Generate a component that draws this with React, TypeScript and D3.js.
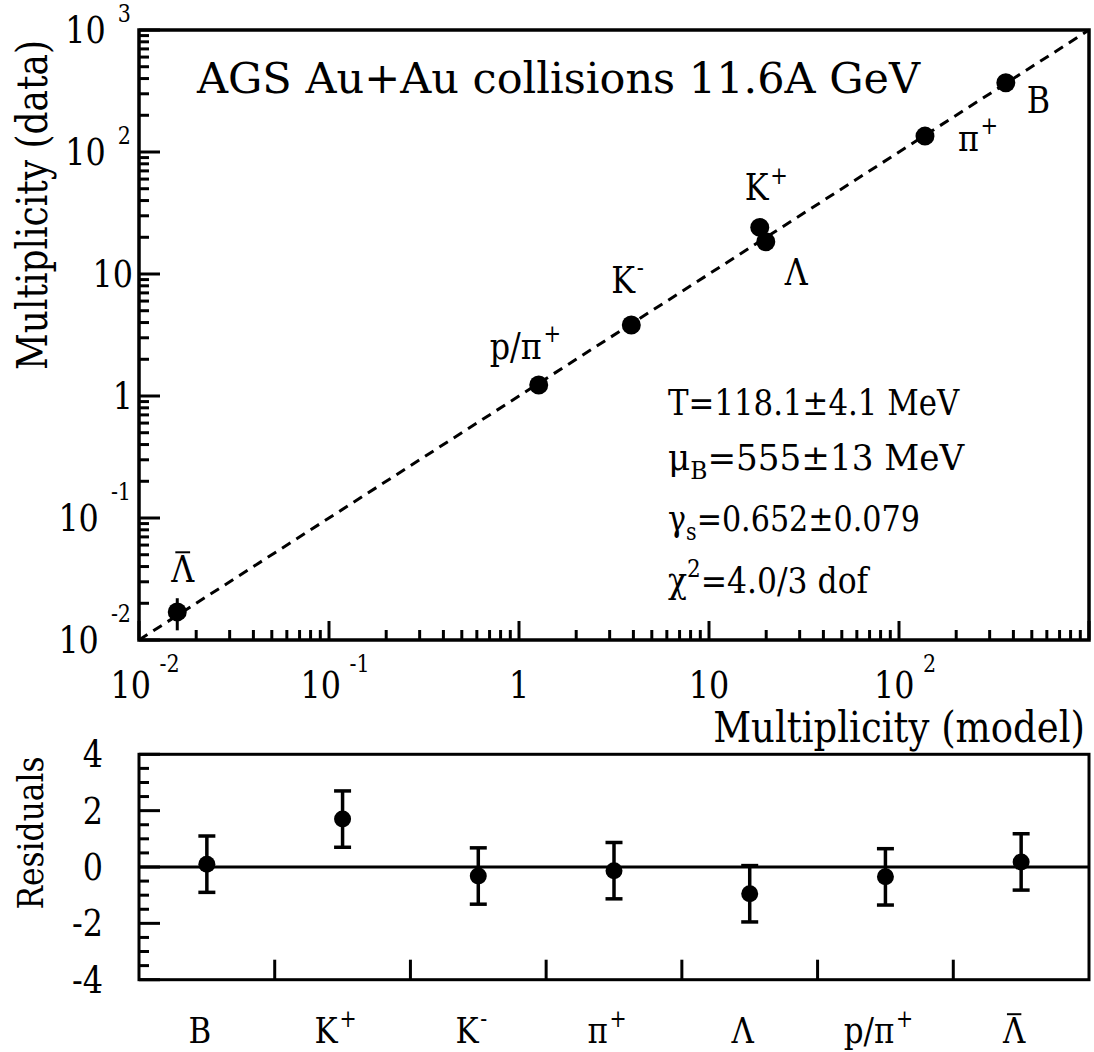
import React, { useLayoutEffect, useRef, useState } from 'react';
import * as d3 from 'd3';

const FONT = "'DejaVu Serif', 'Liberation Serif', serif";

// ---------------- data: main panel (multiplicity data vs model) ----------------
const particles = ['B', 'π+', 'K+', 'Λ', 'K-', 'p/π+', 'Λbar'];
const modelMultiplicity = [365, 137, 18.5, 19.9, 3.9, 1.27, 0.0159];
const dataMultiplicity = [370, 135, 24.1, 18.4, 3.82, 1.23, 0.017];
const dataError = [0, 0, 0, 0, 0, 0, 0.005];

// ---------------- data: residual panel ----------------
const residualCategories = ['B', 'K+', 'K-', 'π+', 'Λ', 'p/π+', 'Λbar'];
const residualValues = [0.1, 1.7, -0.32, -0.13, -0.95, -0.35, 0.18];
const residualErrors = [1, 1, 1, 1, 1, 1, 1];

// ---------------- axes / ticks ----------------
const logExponents = [-2, -1, 0, 1, 2, 3];
const residualMajorTicks = [-4, -2, 0, 2, 4];

// ---------------- text ----------------
const titleText = 'AGS Au+Au collisions 11.6A GeV';
const xTitle = 'Multiplicity (model)';
const yTitle = 'Multiplicity (data)';
const residualTitle = 'Residuals';
const fitLines = [
  { base: 'T', sub: '', sup: '', rest: '=118.1±4.1 MeV' },
  { base: 'μ', sub: 'B', sup: '', rest: '=555±13 MeV' },
  { base: 'γ', sub: 's', sup: '', rest: '=0.652±0.079' },
  { base: 'χ', sub: '', sup: '2', rest: '=4.0/3 dof' },
];

// ---------------- layout / style ----------------
const W = 1094;
const H = 1052;
const M = { left: 139, right: 1089, top: 30, bottom: 640 };
const R = { left: 139, right: 1089, top: 754.3, bottom: 979.7 };
const fitBaselines = [415, 470, 531, 593];
const fitWidths = [292, 297, 252, 203];
// label offsets relative to each point, in px
const labelOffsets: Record<string, [number, number]> = {
  'B': [21, 30],
  'π+': [33, 15],
  'K+': [-15, -27],
  'Λ': [19, 43],
  'K-': [-20, -32],
  'p/π+': [-49, -26],
  'Λbar': [-6, -30],
};
const SX = 0.86; // horizontal squeeze so DejaVu Serif resembles Times proportions

const txtStyle = { fontFamily: FONT };

function SText({ x, y, size, anchor = 'start', sx = 1, rotate = 0, children }: any) {
  return (
    <g transform={`translate(${x},${y}) rotate(${rotate}) scale(${sx},1)`}>
      <text x={0} y={0} fontSize={size} textAnchor={anchor} style={txtStyle}>
        {children}
      </text>
    </g>
  );
}

// text squeezed/stretched horizontally to a target width (measured at runtime)
function FitText({ x, y, size, anchor = 'start', rotate = 0, width, children }: any) {
  const ref = useRef<SVGTextElement>(null);
  const [sx, setSx] = useState(1);
  useLayoutEffect(() => {
    if (ref.current) {
      const w = ref.current.getBBox().width;
      if (w > 0) setSx(width / w);
    }
  }, [width]);
  return (
    <g transform={`translate(${x},${y}) rotate(${rotate}) scale(${sx},1)`}>
      <text ref={ref} x={0} y={0} fontSize={size} textAnchor={anchor} style={txtStyle}>
        {children}
      </text>
    </g>
  );
}

function ParticleLabel({ text, x, y, size, anchor = 'start' }: any) {
  let base = text;
  let sup = '';
  let bar = false;
  if (text.endsWith('bar')) {
    base = text.slice(0, -3);
    bar = true;
  } else if (text.endsWith('+') || text.endsWith('-')) {
    base = text.slice(0, -1);
    sup = text.slice(-1);
  }
  const barCx = anchor === 'middle' ? x : x + 0.36 * size * SX;
  return (
    <g>
      <SText x={x} y={y} size={size} anchor={anchor} sx={SX}>
        {base}
        {sup && (
          <tspan dx={2} dy={-size * 0.45} fontSize={size * 0.66}>
            {sup}
          </tspan>
        )}
      </SText>
      {bar && (
        <line
          x1={barCx - 0.2 * size}
          x2={barCx + 0.2 * size}
          y1={y - 0.8 * size}
          y2={y - 0.8 * size}
          stroke="#000"
          strokeWidth={2}
        />
      )}
    </g>
  );
}

export default function App() {
  const x = d3.scaleLog().domain([0.01, 1000]).range([M.left, M.right]);
  const y = d3.scaleLog().domain([0.01, 1000]).range([M.bottom, M.top]);

  const rx = d3.scaleLinear().domain([0, residualCategories.length]).range([R.left, R.right]);
  const ry = d3.scaleLinear().domain([-4, 4]).range([R.bottom, R.top]);

  const minorVals: number[] = [];
  for (let e = -2; e < 3; e++) for (let m = 2; m <= 9; m++) minorVals.push(m * Math.pow(10, e));
  const majorVals = logExponents.map((e) => Math.pow(10, e));

  const resMinor = d3.range(-4, 4.01, 0.5).filter((v) => !residualMajorTicks.includes(v));

  const diag = d3.line<number>()
    .x((d) => x(d))
    .y((d) => y(d))([0.01, 1000]);

  const tickFont = 37;
  const expFont = 24;

  return (
    <svg
      width={W}
      height={H}
      style={{ position: 'absolute', left: 0, top: 0, background: '#fff', fontFamily: FONT }}
    >
      <rect x={0} y={0} width={W} height={H} fill="#fff" />

      {/* ===== main panel ===== */}
      {minorVals.map((v, i) => (
        <g key={'mn' + i} stroke="#000" strokeWidth={3}>
          <line x1={M.left} x2={M.left + 10} y1={y(v)} y2={y(v)} />
          <line x1={x(v)} x2={x(v)} y1={M.bottom} y2={M.bottom - 10} />
        </g>
      ))}
      {majorVals.map((v, i) => (
        <g key={'mj' + i} stroke="#000" strokeWidth={3}>
          <line x1={M.left} x2={M.left + 21} y1={y(v)} y2={y(v)} />
          <line x1={x(v)} x2={x(v)} y1={M.bottom} y2={M.bottom - 19} />
        </g>
      ))}
      <path d={diag || ''} stroke="#000" strokeWidth={3} strokeDasharray="10 7" fill="none" />
      <rect
        x={M.left}
        y={M.top}
        width={M.right - M.left}
        height={M.bottom - M.top}
        fill="none"
        stroke="#000"
        strokeWidth={3.5}
      />

      {/* y tick labels */}
      {logExponents.map((e) => {
        const ty = y(Math.pow(10, e));
        if (e === 0 || e === 1)
          return (
            <SText key={'yl' + e} x={133} y={ty + 13} size={tickFont} anchor="end" sx={SX}>
              {e === 0 ? '1' : '10'}
            </SText>
          );
        return (
          <SText key={'yl' + e} x={131} y={ty + 13} size={tickFont} anchor="end" sx={SX}>
            10
            <tspan dx={14} dy={e < 0 ? -31 : -21} fontSize={expFont}>
              {String(e)}
            </tspan>
          </SText>
        );
      })}
      {/* x tick labels */}
      {logExponents.filter((e) => e < 3).map((e) => {
        const tx = x(Math.pow(10, e));
        if (e === 0 || e === 1)
          return (
            <SText key={'xl' + e} x={tx} y={698} size={tickFont} anchor="middle" sx={SX}>
              {e === 0 ? '1' : '10'}
            </SText>
          );
        return (
          <SText key={'xl' + e} x={tx + 6} y={698} size={tickFont} anchor="middle" sx={SX}>
            10
            <tspan dx={10} dy={-26} fontSize={expFont}>
              {String(e)}
            </tspan>
          </SText>
        );
      })}

      {/* axis titles */}
      <FitText x={1085} y={742} size={42} anchor="end" width={372}>
        {xTitle}
      </FitText>
      <FitText x={47} y={205} size={42} anchor="middle" rotate={-90} width={330}>
        {yTitle}
      </FitText>

      {/* title */}
      <FitText x={197} y={93} size={42} width={725}>
        {titleText}
      </FitText>

      {/* fit parameters */}
      {fitLines.map((l, i) => (
        <FitText key={'fit' + i} x={668} y={fitBaselines[i]} size={35} width={fitWidths[i]}>
          {l.base}
          {l.sub && (
            <tspan dy={9} fontSize={24}>
              {l.sub}
            </tspan>
          )}
          {l.sup && (
            <tspan dy={-16} fontSize={24}>
              {l.sup}
            </tspan>
          )}
          <tspan dy={l.sub ? -9 : l.sup ? 16 : 0}>{l.rest}</tspan>
        </FitText>
      ))}

      {/* error bars + points */}
      {particles.map((p, i) => {
        const cx = x(modelMultiplicity[i]);
        const cy = y(dataMultiplicity[i]);
        const err = dataError[i];
        return (
          <g key={'pt' + i}>
            {err > 0 && (
              <line
                x1={cx}
                x2={cx}
                y1={y(dataMultiplicity[i] + err)}
                y2={y(dataMultiplicity[i] - err)}
                stroke="#000"
                strokeWidth={3}
              />
            )}
            <circle cx={cx} cy={cy} r={9.5} fill="#000" />
          </g>
        );
      })}
      {particles.map((p, i) => {
        const cx = x(modelMultiplicity[i]);
        const cy = y(dataMultiplicity[i]);
        const off = labelOffsets[p];
        return <ParticleLabel key={'lb' + i} text={p} x={cx + off[0]} y={cy + off[1]} size={37} />;
      })}

      {/* ===== residual panel ===== */}
      {resMinor.map((v, i) => (
        <line key={'rmn' + i} x1={R.left} x2={R.left + 10} y1={ry(v)} y2={ry(v)} stroke="#000" strokeWidth={3} />
      ))}
      {residualMajorTicks.map((v, i) => (
        <line key={'rmj' + i} x1={R.left} x2={R.left + 21} y1={ry(v)} y2={ry(v)} stroke="#000" strokeWidth={3} />
      ))}
      {d3.range(1, residualCategories.length).map((k) => (
        <line key={'rxt' + k} x1={rx(k)} x2={rx(k)} y1={R.bottom} y2={R.bottom - 20} stroke="#000" strokeWidth={3} />
      ))}
      <line x1={R.left} x2={R.right} y1={ry(0)} y2={ry(0)} stroke="#000" strokeWidth={3} />
      <rect
        x={R.left}
        y={R.top}
        width={R.right - R.left}
        height={R.bottom - R.top}
        fill="none"
        stroke="#000"
        strokeWidth={3}
      />
      {residualMajorTicks.map((v) => (
        <SText key={'rl' + v} x={103} y={ry(v) + 13} size={tickFont} anchor="end" sx={SX}>
          {String(v)}
        </SText>
      ))}
      <FitText x={43} y={833} size={36} anchor="middle" rotate={-90} width={153}>
        {residualTitle}
      </FitText>

      {residualCategories.map((c, i) => {
        const cx = rx(i + 0.5);
        const v = residualValues[i];
        const e = residualErrors[i];
        return (
          <g key={'res' + i} stroke="#000" strokeWidth={3.5}>
            <line x1={cx} x2={cx} y1={ry(v + e)} y2={ry(v - e)} />
            <line x1={cx - 8.5} x2={cx + 8.5} y1={ry(v + e)} y2={ry(v + e)} />
            <line x1={cx - 8.5} x2={cx + 8.5} y1={ry(v - e)} y2={ry(v - e)} />
            <circle cx={cx} cy={ry(v)} r={8.5} fill="#000" stroke="none" />
          </g>
        );
      })}
      {residualCategories.map((c, i) => (
        <ParticleLabel key={'rcl' + i} text={c} x={rx(i + 0.5) - 7} y={1043} size={36} anchor="middle" />
      ))}
    </svg>
  );
}
